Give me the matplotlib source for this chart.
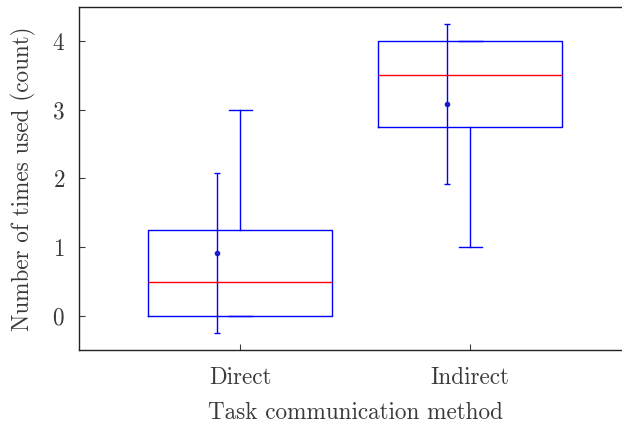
import matplotlib
matplotlib.use("Agg")
import matplotlib.pyplot as plt

plt.rcParams['font.family'] = 'serif'
plt.rcParams['font.serif'] = ['cmr10', 'DejaVu Serif']
plt.rcParams['mathtext.fontset'] = 'cm'
plt.rcParams['axes.formatter.use_mathtext'] = True

categories = ["Direct", "Indirect"]
q1 = [0.0, 2.75]
medians = [0.5, 3.5]
q3 = [1.25, 4.0]
whislo = [0.0, 1.0]
whishi = [3.0, 4.0]
means = [0.92, 3.08]
mean_lo = [-0.25, 1.92]
mean_hi = [2.08, 4.25]

fig = plt.figure(figsize=(6.22, 4.25), dpi=100)
ax = fig.add_axes([0.127, 0.1755, 0.8875, 0.809])

stats = []
for i, c in enumerate(categories):
    stats.append(dict(label=c, q1=q1[i], med=medians[i], q3=q3[i],
                      whislo=whislo[i], whishi=whishi[i], fliers=[]))

pos = [1, 2]
ax.bxp(stats, positions=pos, widths=0.8, showfliers=False, capwidths=0.1,
       boxprops=dict(color='blue', linewidth=1.0),
       whiskerprops=dict(color='blue', linewidth=1.0, linestyle='-'),
       capprops=dict(color='blue', linewidth=1.0),
       medianprops=dict(color='red', linewidth=1.0))

mpos = [p - 0.1 for p in pos]
yerr_lo = [m - lo for m, lo in zip(means, mean_lo)]
yerr_hi = [hi - m for m, hi in zip(means, mean_hi)]
ax.errorbar(mpos, means, yerr=[yerr_lo, yerr_hi], fmt='o', color='#1a1ad0',
            ecolor='blue', elinewidth=1.0, capsize=2, markersize=3, capthick=1)

ax.set_xlim(0.3, 2.7)
ax.set_ylim(-0.5, 4.5)
ax.set_xticks(pos)
ax.set_xticklabels(categories)
ax.set_yticks([0, 1, 2, 3, 4])
ax.tick_params(direction='in', length=4, labelsize=16.7, colors='#3a3a3a',
               top=False, right=False)
ax.tick_params(axis='x', pad=12)
ax.tick_params(axis='y', pad=10)
for s in ax.spines.values():
    s.set_color('#222222')
    s.set_linewidth(1.0)

ax.set_xlabel("Task communication method", fontsize=16.7, color='#3a3a3a', labelpad=9)
ax.set_ylabel("Number of times used (count)", fontsize=16.7, color='#3a3a3a', labelpad=12)

fig.savefig("out.png", dpi=100)
